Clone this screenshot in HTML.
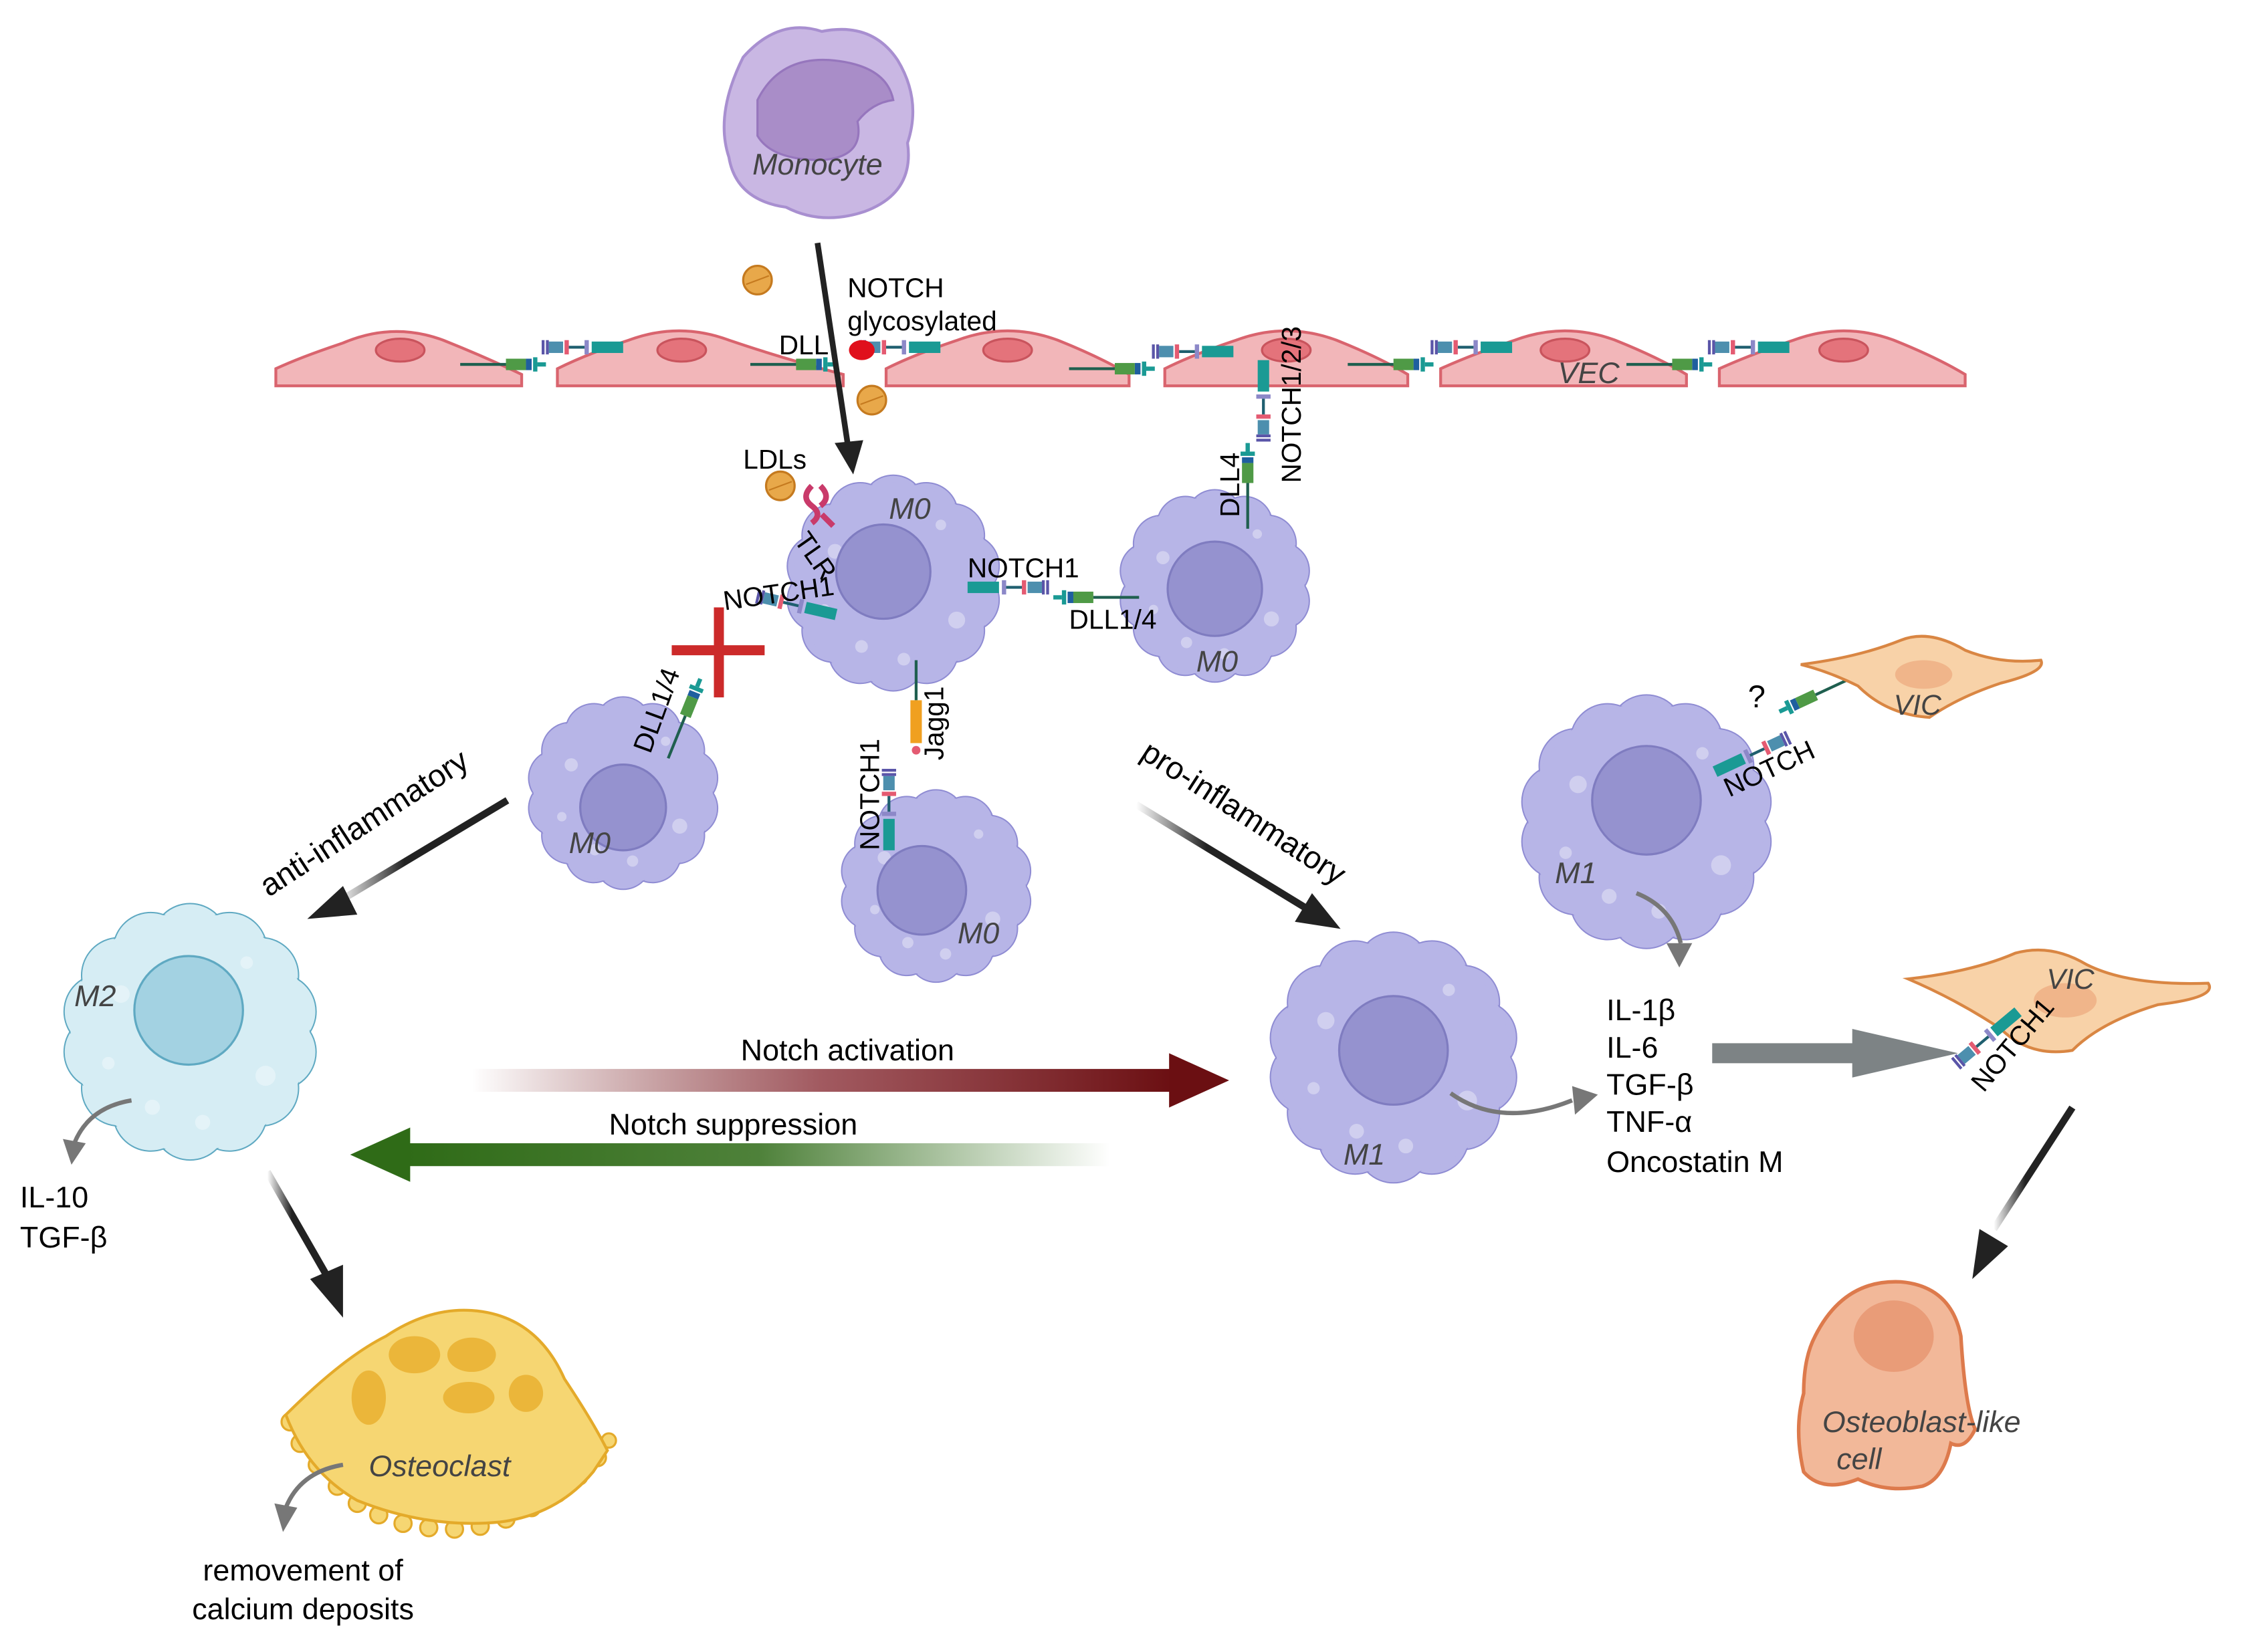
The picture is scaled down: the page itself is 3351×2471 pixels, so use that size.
<!DOCTYPE html>
<html><head><meta charset="utf-8"><style>
html,body{margin:0;padding:0;background:#fff;}
svg{display:block;}
text{font-family:"Liberation Sans",sans-serif;}
</style></head><body>
<svg width="3351" height="2471" viewBox="0 0 1568 1156" preserveAspectRatio="none" xmlns="http://www.w3.org/2000/svg">
<defs>
<linearGradient id="gAct" x1="0" x2="1" y1="0" y2="0"><stop offset="0" stop-color="#6b0f12" stop-opacity="0"/><stop offset="0.5" stop-color="#8a3038" stop-opacity="0.8"/><stop offset="1" stop-color="#6b0f12"/></linearGradient>
<linearGradient id="gSup" x1="1" x2="0" y1="0" y2="0"><stop offset="0" stop-color="#2f6b17" stop-opacity="0"/><stop offset="0.5" stop-color="#2f6b17" stop-opacity="0.85"/><stop offset="1" stop-color="#2f6b17"/></linearGradient>
<linearGradient id="gBlk" x1="0" x2="1"><stop offset="0" stop-color="#222" stop-opacity="0"/><stop offset="0.4" stop-color="#222"/><stop offset="1" stop-color="#222"/></linearGradient>
<g id="wav">
<circle cx="0" cy="-0.72" r="0.3" vector-effect="non-scaling-stroke" transform="rotate(0)"/>
<circle cx="0" cy="-0.72" r="0.3" vector-effect="non-scaling-stroke" transform="rotate(25.7)"/>
<circle cx="0" cy="-0.72" r="0.3" vector-effect="non-scaling-stroke" transform="rotate(51.4)"/>
<circle cx="0" cy="-0.72" r="0.3" vector-effect="non-scaling-stroke" transform="rotate(77.1)"/>
<circle cx="0" cy="-0.72" r="0.3" vector-effect="non-scaling-stroke" transform="rotate(102.9)"/>
<circle cx="0" cy="-0.72" r="0.3" vector-effect="non-scaling-stroke" transform="rotate(128.6)"/>
<circle cx="0" cy="-0.72" r="0.3" vector-effect="non-scaling-stroke" transform="rotate(154.3)"/>
<circle cx="0" cy="-0.72" r="0.3" vector-effect="non-scaling-stroke" transform="rotate(180)"/>
<circle cx="0" cy="-0.72" r="0.3" vector-effect="non-scaling-stroke" transform="rotate(205.7)"/>
<circle cx="0" cy="-0.72" r="0.3" vector-effect="non-scaling-stroke" transform="rotate(231.4)"/>
<circle cx="0" cy="-0.72" r="0.3" vector-effect="non-scaling-stroke" transform="rotate(257.1)"/>
<circle cx="0" cy="-0.72" r="0.3" vector-effect="non-scaling-stroke" transform="rotate(282.9)"/>
<circle cx="0" cy="-0.72" r="0.3" vector-effect="non-scaling-stroke" transform="rotate(308.6)"/>
<circle cx="0" cy="-0.72" r="0.3" vector-effect="non-scaling-stroke" transform="rotate(334.3)"/>
<circle cx="0" cy="0" r="0.95" stroke="none"/>
<g fill="#fff" fill-opacity="0.35" stroke="none">
<circle cx="-0.55" cy="-0.3" r="0.07"/><circle cx="0.6" cy="0.35" r="0.08"/><circle cx="-0.3" cy="0.6" r="0.06"/><circle cx="0.45" cy="-0.55" r="0.05"/><circle cx="-0.65" cy="0.25" r="0.05"/><circle cx="0.1" cy="0.72" r="0.06"/>
</g>
</g>
<g id="notch"><rect x="0" y="-4" width="22" height="8" fill="#1a9a94"/><rect x="24" y="-5" width="3" height="10" fill="#8c88c8"/><line x1="27" y1="0" x2="38" y2="0" stroke="#1f5f6f" stroke-width="2"/><rect x="38" y="-5" width="3" height="10" fill="#e45b72"/><rect x="42" y="-4" width="10" height="8" fill="#4d8fae"/><rect x="52" y="-5" width="2" height="10" fill="#5a55a8"/><rect x="55" y="-5" width="2" height="10" fill="#5a55a8"/></g>
<g id="dll"><line x1="0" y1="0" x2="6" y2="0" stroke="#1a9a94" stroke-width="3"/><rect x="6" y="-5" width="3" height="10" fill="#1a9a94"/><rect x="10" y="-4" width="4" height="8" fill="#1f5f9f"/><rect x="14" y="-4" width="14" height="8" fill="#4f9a46"/><line x1="28" y1="0" x2="60" y2="0" stroke="#1f5f4f" stroke-width="2"/></g>
</defs>
<rect width="1568" height="1156" fill="#fff"/>

<!-- Monocyte -->
<path d="M520,40 Q545,12 575,22 Q610,15 628,42 Q645,70 635,100 Q640,135 605,148 Q575,158 550,145 Q515,140 510,110 Q500,80 520,40Z" fill="#c9b7e3" stroke="#a88fd0" stroke-width="2"/>
<path d="M530,70 Q545,40 580,42 Q620,45 625,70 Q610,72 600,85 Q605,110 575,112 Q540,112 530,95Z" fill="#a98dc8" stroke="#9676bd" stroke-width="1.5"/>
<text x="572" y="122" font-size="21" font-style="italic" fill="#444" text-anchor="middle">Monocyte</text>

<!-- LDL particles -->
<g><circle cx="530" cy="196" r="10" fill="#e8a84a" stroke="#c57a1f" stroke-width="1.5"/><line x1="522" y1="199" x2="538" y2="193" stroke="#c57a1f"/></g>
<g><circle cx="610" cy="280" r="10" fill="#e8a84a" stroke="#c57a1f" stroke-width="1.5"/><line x1="602" y1="283" x2="618" y2="277" stroke="#c57a1f"/></g>
<g><circle cx="546" cy="340" r="10" fill="#e8a84a" stroke="#c57a1f" stroke-width="1.5"/><line x1="538" y1="343" x2="554" y2="337" stroke="#c57a1f"/></g>

<!-- VEC row -->
<g fill="#f2b6b9" stroke="#d9646e" stroke-width="2">
<path d="M193,270 L193,258 Q210,250 240,240 Q275,225 310,238 Q340,250 365,262 L365,270Z"/>
<path d="M390,270 L390,258 Q410,248 440,238 Q475,225 510,238 Q545,250 590,262 L590,270Z"/>
<path d="M620,270 L620,258 Q640,248 670,238 Q705,225 740,238 Q770,250 790,262 L790,270Z"/>
<path d="M815,270 L815,258 Q835,248 865,238 Q900,225 935,238 Q965,250 985,262 L985,270Z"/>
<path d="M1008,270 L1008,258 Q1030,248 1060,238 Q1095,225 1130,238 Q1160,250 1180,262 L1180,270Z"/>
<path d="M1203,270 L1203,258 Q1225,248 1255,238 Q1290,225 1325,238 Q1355,250 1375,262 L1375,270Z"/>
</g>
<g fill="#e4737b" stroke="#c9545d" stroke-width="1.5">
<ellipse cx="280" cy="245" rx="17" ry="8"/><ellipse cx="477" cy="245" rx="17" ry="8"/><ellipse cx="705" cy="245" rx="17" ry="8"/><ellipse cx="900" cy="245" rx="17" ry="8"/><ellipse cx="1095" cy="245" rx="17" ry="8"/><ellipse cx="1290" cy="245" rx="17" ry="8"/>
</g>
<text x="1090" y="268" font-size="21" font-style="italic" fill="#444">VEC</text>
<use href="#dll" transform="translate(382,255) scale(-1,1)"/><use href="#notch" transform="translate(436,243) scale(-1,1)"/>
<use href="#dll" transform="translate(585,255) scale(-1,1)"/><use href="#notch" transform="translate(658,243) scale(-1,1)"/>
<use href="#dll" transform="translate(808,258) scale(-1,1)"/><use href="#notch" transform="translate(863,246) scale(-1,1)"/>
<use href="#dll" transform="translate(1003,255) scale(-1,1)"/><use href="#notch" transform="translate(1058,243) scale(-1,1)"/>
<use href="#dll" transform="translate(1198,255) scale(-1,1)"/><use href="#notch" transform="translate(1252,243) scale(-1,1)"/>
<ellipse cx="603" cy="245" rx="9" ry="7" fill="#e0101c"/>
<text x="545" y="248" font-size="19">DLL</text>
<text x="593" y="208" font-size="19">NOTCH</text>
<text x="593" y="231" font-size="19">glycosylated</text>

<!-- Monocyte arrow -->
<line x1="572" y1="170" x2="593" y2="310" stroke="#222" stroke-width="4"/>
<polygon points="584,310 604,308 597,332" fill="#222"/>

<!-- M0 cells -->
<g fill="#b7b5e7" stroke="#8f8cd3" stroke-width="2">
<use href="#wav" transform="translate(625,408) scale(74)"/>
<use href="#wav" transform="translate(850,410) scale(66)"/>
<use href="#wav" transform="translate(436,555) scale(66)"/>
<use href="#wav" transform="translate(655,620) scale(66)"/>
</g>
<g fill="#9592cf" stroke="#7f7cc0" stroke-width="1.5">
<circle cx="618" cy="400" r="33"/><circle cx="850" cy="412" r="33"/><circle cx="436" cy="565" r="30"/><circle cx="645" cy="623" r="31"/>
</g>
<g font-size="21" font-style="italic" fill="#444">
<text x="622" y="363">M0</text><text x="837" y="470">M0</text><text x="398" y="597">M0</text><text x="670" y="660">M0</text>
</g>
<!-- M0 connections -->
<use href="#notch" transform="translate(677,411)"/>
<use href="#dll" transform="translate(737,418)"/>
<text x="677" y="404" font-size="19">NOTCH1</text>
<text x="748" y="440" font-size="19">DLL1/4</text>
<use href="#notch" transform="translate(585,430) rotate(-167)"/>
<text x="507" y="427" font-size="19" transform="rotate(-8 507 427)">NOTCH1</text>
<use href="#dll" transform="translate(490,475) rotate(112)"/>
<text x="455" y="528" font-size="19" transform="rotate(-70 455 528)">DLL1/4</text>
<line x1="470" y1="455" x2="535" y2="455" stroke="#cc2a2a" stroke-width="7"/>
<line x1="503" y1="425" x2="503" y2="488" stroke="#cc2a2a" stroke-width="7"/>
<!-- Jagg1 -->
<line x1="641" y1="462" x2="641" y2="490" stroke="#1f5f4f" stroke-width="2"/>
<rect x="637" y="490" width="8" height="30" fill="#f0a020"/>
<circle cx="641" cy="525" r="3" fill="#e45b72"/>
<text x="660" y="532" font-size="19" transform="rotate(-90 660 532)">Jagg1</text>
<use href="#notch" transform="translate(622,595) rotate(-90)"/>
<text x="615" y="595" font-size="19" transform="rotate(-90 615 595)">NOTCH1</text>
<!-- DLL4 / NOTCH1/2/3 -->
<use href="#notch" transform="translate(884,252) rotate(90)"/>
<use href="#dll" transform="translate(873,310) rotate(90)"/>
<text x="910" y="338" font-size="19" transform="rotate(-90 910 338)">NOTCH1/2/3</text>
<text x="867" y="362" font-size="19" transform="rotate(-90 867 362)">DLL4</text>
<!-- TLR -->
<path d="M568,340 q-8,8 0,14 q8,6 0,12 M574,340 q8,8 0,14 M575,360 l8,8" stroke="#c93a6a" stroke-width="4" fill="none"/>
<text x="520" y="328" font-size="19">LDLs</text>
<text x="555" y="378" font-size="19" transform="rotate(55 555 378)">TLR</text>

<!-- anti / pro inflammatory arrows -->
<line x1="355" y1="560" x2="235" y2="632" stroke="url(#gBlk)" stroke-width="5"/>
<polygon points="215,643 240,620 250,640" fill="#222"/>
<text x="188" y="628" font-size="22" transform="rotate(-33 188 628)">anti-inflammatory</text>
<line x1="795" y1="563" x2="918" y2="638" stroke="url(#gBlk)" stroke-width="5"/>
<polygon points="938,650 906,645 918,625" fill="#222"/>
<text x="797" y="530" font-size="22" transform="rotate(33 797 530)">pro-inflammatory</text>

<!-- M2 -->
<use href="#wav" transform="translate(133,722) scale(88)" fill="#d6edf4" stroke="#5fa9c2" stroke-width="2"/>
<circle cx="132" cy="707" r="38" fill="#a3d2e2" stroke="#5fa9c2" stroke-width="1.5"/>
<text x="52" y="704" font-size="21" font-style="italic" fill="#444">M2</text>
<path d="M92,770 Q62,775 52,800" stroke="#777" stroke-width="3" fill="none"/>
<polygon points="44,797 60,800 50,815" fill="#777"/>
<text x="14" y="845" font-size="21">IL-10</text>
<text x="14" y="873" font-size="21">TGF-β</text>
<line x1="187" y1="820" x2="230" y2="895" stroke="url(#gBlk)" stroke-width="5"/>
<polygon points="240,922 217,895 240,885" fill="#222"/>

<!-- Osteoclast -->
<g fill="#f6d672" stroke="#e4aa2a" stroke-width="1.5">
<circle cx="203" cy="995" r="6"/><circle cx="210" cy="1010" r="6"/><circle cx="222" cy="1025" r="6"/><circle cx="236" cy="1040" r="6"/><circle cx="250" cy="1052" r="6"/><circle cx="265" cy="1060" r="6"/><circle cx="282" cy="1066" r="6"/><circle cx="300" cy="1069" r="6"/><circle cx="318" cy="1070" r="6"/><circle cx="336" cy="1068" r="6"/><circle cx="354" cy="1063" r="6"/><circle cx="372" cy="1055" r="6"/><circle cx="390" cy="1045" r="6"/><circle cx="405" cy="1033" r="6"/><circle cx="418" cy="1020" r="6"/><circle cx="426" cy="1008" r="5"/>
</g>
<path d="M200,990 Q240,950 270,935 Q300,915 330,917 Q375,920 395,965 Q415,995 425,1015 L415,1030 Q390,1060 350,1065 Q300,1070 250,1050 Q215,1030 200,990Z" fill="#f6d672" stroke="#e4aa2a" stroke-width="2"/>
<g fill="#ebb63a"><ellipse cx="258" cy="978" rx="12" ry="19"/><ellipse cx="290" cy="948" rx="18" ry="13"/><ellipse cx="330" cy="948" rx="17" ry="12"/><ellipse cx="328" cy="978" rx="18" ry="11"/><ellipse cx="368" cy="975" rx="12" ry="13"/></g>
<text x="258" y="1033" font-size="21" font-style="italic" fill="#444">Osteoclast</text>
<path d="M240,1025 Q210,1030 200,1055" stroke="#777" stroke-width="3" fill="none"/>
<polygon points="192,1052 208,1055 198,1072" fill="#777"/>
<text x="212" y="1106" font-size="21" text-anchor="middle">removement of</text>
<text x="212" y="1133" font-size="21" text-anchor="middle">calcium deposits</text>

<!-- Notch activation / suppression -->
<rect x="330" y="748" width="490" height="16" fill="url(#gAct)"/>
<polygon points="818,737 860,756 818,775" fill="#6b0f12"/>
<text x="593" y="742" font-size="21" text-anchor="middle">Notch activation</text>
<rect x="285" y="800" width="492" height="16" fill="url(#gSup)"/>
<polygon points="287,789 245,808 287,827" fill="#2f6b17"/>
<text x="513" y="794" font-size="21" text-anchor="middle">Notch suppression</text>

<!-- M1 center -->
<use href="#wav" transform="translate(975,740) scale(86)" fill="#b7b5e7" stroke="#8f8cd3" stroke-width="2"/>
<circle cx="975" cy="735" r="38" fill="#9592cf" stroke="#7f7cc0" stroke-width="1.5"/>
<text x="940" y="815" font-size="21" font-style="italic" fill="#444">M1</text>
<path d="M1015,765 Q1050,790 1100,770" stroke="#777" stroke-width="3" fill="none"/>
<polygon points="1100,760 1118,766 1102,780" fill="#777"/>

<!-- M1 right -->
<use href="#wav" transform="translate(1152,575) scale(87)" fill="#b7b5e7" stroke="#8f8cd3" stroke-width="2"/>
<circle cx="1152" cy="560" r="38" fill="#9592cf" stroke="#7f7cc0" stroke-width="1.5"/>
<text x="1088" y="618" font-size="21" font-style="italic" fill="#444">M1</text>
<path d="M1145,625 Q1170,635 1176,660" stroke="#777" stroke-width="3" fill="none"/>
<polygon points="1166,660 1184,660 1175,677" fill="#777"/>
<use href="#notch" transform="translate(1200,540) rotate(-25)"/>
<use href="#dll" transform="translate(1245,498) rotate(-25)"/>
<text x="1210" y="558" font-size="19" transform="rotate(-25 1210 558)">NOTCH</text>
<text x="1223" y="495" font-size="22">?</text>

<!-- VIC top -->
<path d="M1260,465 Q1300,460 1330,448 Q1350,440 1375,455 Q1400,465 1428,462 Q1432,470 1400,478 Q1370,488 1350,502 Q1320,500 1300,480 Q1280,470 1260,465Z" fill="#f8d2a8" stroke="#d98643" stroke-width="2"/>
<ellipse cx="1346" cy="472" rx="20" ry="10" fill="#f0b58a"/>
<text x="1325" y="500" font-size="20" font-style="italic" fill="#444">VIC</text>

<!-- cytokines -->
<g font-size="21"><text x="1124" y="714">IL-1β</text><text x="1124" y="740">IL-6</text><text x="1124" y="766">TGF-β</text><text x="1124" y="792">TNF-α</text><text x="1124" y="820">Oncostatin M</text></g>
<rect x="1198" y="730" width="100" height="14" fill="#7d8385"/>
<polygon points="1296,720 1370,737 1296,754" fill="#7d8385"/>

<!-- VIC lower -->
<path d="M1335,685 Q1380,680 1410,667 Q1435,660 1460,675 Q1490,690 1545,688 Q1552,698 1510,703 Q1470,715 1450,735 Q1420,740 1400,720 Q1370,700 1335,685Z" fill="#f8d2a8" stroke="#d98643" stroke-width="2"/>
<ellipse cx="1445" cy="700" rx="22" ry="12" fill="#f0b58a"/>
<text x="1432" y="692" font-size="20" font-style="italic" fill="#444">VIC</text>
<use href="#notch" transform="translate(1412,708) rotate(140)"/>
<text x="1388" y="765" font-size="19" transform="rotate(-50 1388 765)">NOTCH1</text>
<line x1="1450" y1="775" x2="1395" y2="860" stroke="url(#gBlk)" stroke-width="5"/>
<polygon points="1380,895 1385,860 1405,872" fill="#222"/>

<!-- Osteoblast-like -->
<path d="M1270,935 Q1290,895 1330,897 Q1365,900 1372,935 Q1375,985 1382,1000 Q1375,1015 1365,1010 Q1360,1035 1345,1040 Q1320,1045 1300,1035 Q1275,1045 1262,1030 Q1255,1000 1262,975 Q1262,950 1270,935Z" fill="#f2b899" stroke="#dd7a4c" stroke-width="2.5"/>
<ellipse cx="1325" cy="935" rx="28" ry="25" fill="#e99c78"/>
<text x="1275" y="1002" font-size="21" font-style="italic" fill="#444">Osteoblast-like</text>
<text x="1285" y="1028" font-size="21" font-style="italic" fill="#444">cell</text>
</svg>
</body></html>
